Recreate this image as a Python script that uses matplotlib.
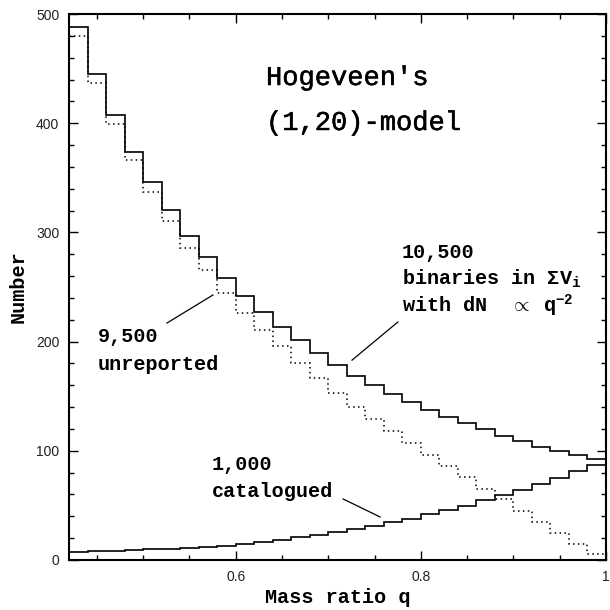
import matplotlib
matplotlib.use("Agg")
import matplotlib.pyplot as plt
import matplotlib.patheffects as pe
import numpy as np

# bin edges in q (0.42 .. 1.00, step 0.02)
q_edges = np.linspace(0.42, 1.00, 30)

# all binaries in the model (solid, upper)
n_total = [487.8, 445.0, 407.5, 374.0, 346.0, 320.5, 297.0, 277.5, 258.5, 241.5,
           226.8, 213.7, 201.5, 189.3, 178.3, 168.8, 160.6, 152.3, 144.8, 137.4,
           131.0, 125.5, 120.0, 114.0, 109.0, 103.8, 99.8, 95.8, 92.2]
# unreported (dotted)
n_unrep = [480.0, 437.0, 399.0, 366.0, 336.7, 310.0, 286.0, 265.6, 244.8, 225.9,
           210.6, 196.0, 180.7, 166.7, 153.2, 140.4, 129.0, 118.4, 107.5, 95.8,
           86.0, 76.3, 65.0, 55.5, 45.0, 34.5, 25.0, 15.0, 5.5]
# catalogued (solid, lower)
n_cat = [7.6, 8.0, 8.5, 9.0, 9.6, 10.3, 11.1, 12.0, 13.2, 14.8,
         16.4, 18.2, 20.8, 22.8, 25.3, 28.2, 31.3, 34.5, 37.6, 42.0,
         45.5, 49.7, 54.6, 59.2, 64.4, 69.6, 75.4, 81.2, 87.3]

x_ticks = [0.6, 0.8, 1.0]
x_tick_labels = ["0.6", "0.8", "1"]
y_ticks = [0, 100, 200, 300, 400, 500]

plt.rcParams['mathtext.fontset'] = 'custom'
plt.rcParams['mathtext.rm'] = 'Liberation Mono:bold'
plt.rcParams['mathtext.it'] = 'Liberation Mono:bold'
plt.rcParams['mathtext.bf'] = 'Liberation Mono:bold'

mono = ['Liberation Mono', 'DejaVu Sans Mono']

fig = plt.figure(figsize=(6.1, 6.1), dpi=100)
ax = fig.add_axes([0.1131, 0.082, 0.8803, 0.895])

ax.stairs(n_total, q_edges, baseline=None, color='black', lw=1.2)
ax.stairs(n_unrep, q_edges, baseline=None, color='black', lw=1.1,
          linestyle=(0, (1, 2.2)))
ax.stairs(n_cat, q_edges, baseline=None, color='black', lw=1.2)

ax.set_xlim(0.42, 1.0)
ax.set_ylim(0, 500)

ax.set_xticks(x_ticks)
ax.set_xticklabels(x_tick_labels)
ax.set_xticks(np.arange(0.45, 1.0, 0.05), minor=True)
ax.set_yticks(y_ticks)
ax.set_yticks(np.arange(0, 501, 20), minor=True)

ax.tick_params(which='both', direction='in', top=True, right=True,
               width=1.0, labelsize=10, labelcolor='#222222',
               labelfontfamily='Liberation Sans')
ax.tick_params(which='major', length=6.5, pad=7)
ax.tick_params(which='minor', length=3.3)
for s in ax.spines.values():
    s.set_linewidth(1.5)

ax.set_xlabel('Mass ratio q', fontsize=14.5, fontweight='bold', family=mono,
              labelpad=3)
ax.set_ylabel('Number', fontsize=14.5, fontweight='bold', family=mono,
              labelpad=6)

# title-like annotation (thickened slightly)
thick = [pe.withStroke(linewidth=0.35, foreground='black')]
ax.text(0.6328, 435, "Hogeveen's", fontsize=19.5, family=mono,
        path_effects=thick)
ax.text(0.6328, 393.8, "(1,20)-model", fontsize=19.5, family=mono,
        path_effects=thick)

bold = dict(fontsize=14.5, fontweight='bold', family=mono)
ax.text(0.7797, 276.6, "10,500", **bold)
ax.text(0.7797, 251.8, r"binaries in $\Sigma$V$_\mathrm{i}$", **bold)
ax.text(0.7797, 227.0, r"with dN  $\propto$ q$^{-2}$", **bold)
ax.plot([0.7753, 0.7257], [218, 183], color='black', lw=0.9)

ax.text(0.4513, 199.6, "9,500", **bold)
ax.text(0.4513, 174.0, "unreported", **bold)
ax.plot([0.5258, 0.5755], [217, 242.7], color='black', lw=0.9)

ax.text(0.5744, 82.4, "1,000", **bold)
ax.text(0.5744, 57.7, "catalogued", **bold)
ax.plot([0.716, 0.756], [55.9, 39.4], color='black', lw=0.9)

fig.savefig('out.png', dpi=100)
